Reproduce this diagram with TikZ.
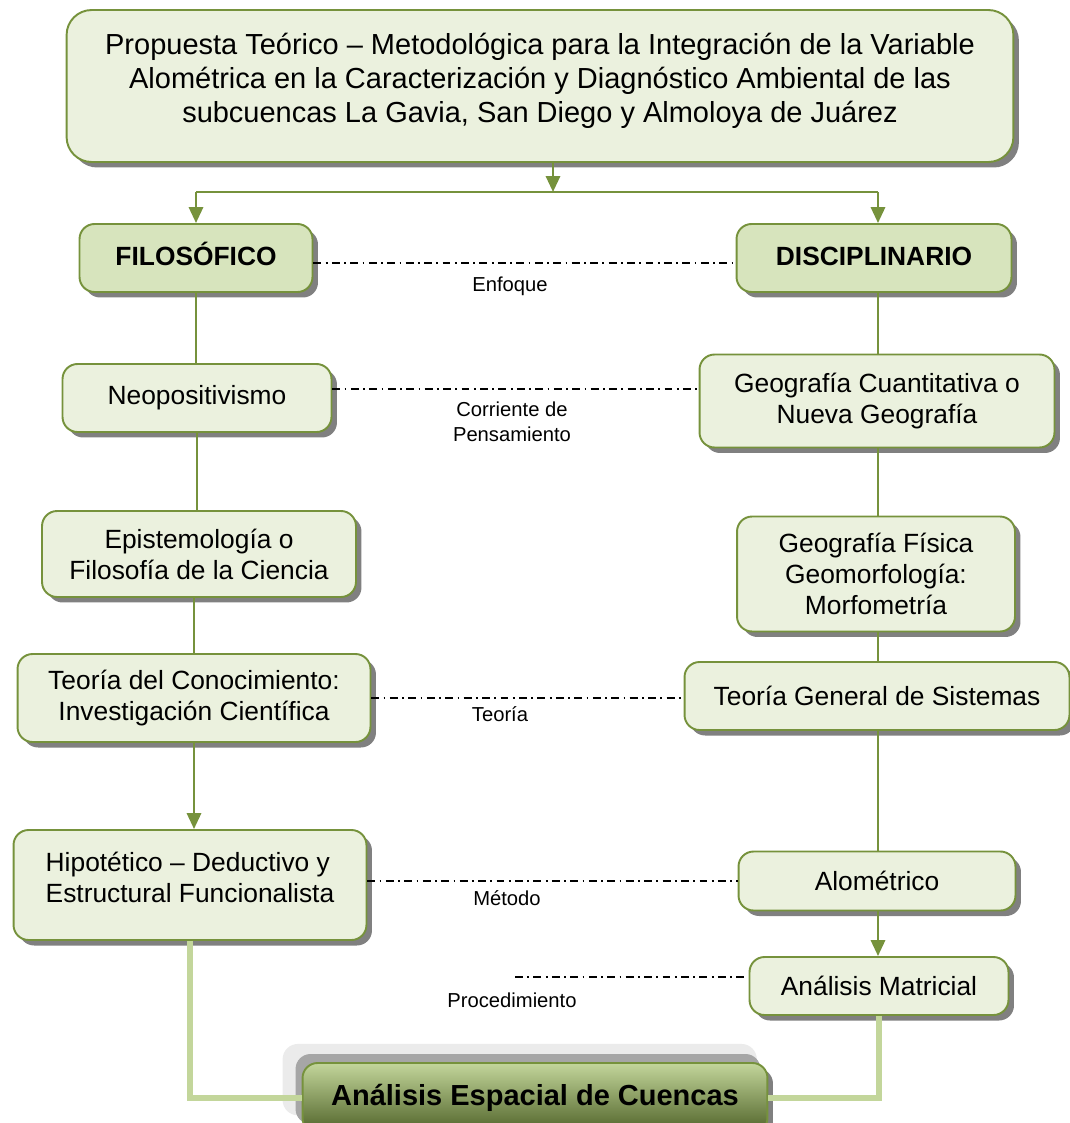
\documentclass[tikz,border=0pt]{standalone}
\usepackage{fontspec}
\setmainfont{Liberation Sans}
\usetikzlibrary{shadows,arrows.meta}

\definecolor{boxline}{HTML}{76923C}
\definecolor{palegreen}{HTML}{EBF1DE}
\definecolor{midgreen}{HTML}{D7E4BD}
\definecolor{feedgreen}{HTML}{C3D69B}
\definecolor{darkolive}{HTML}{4F6228}

\begin{document}
\begin{tikzpicture}[x=0.02cm, y=-0.02cm,
				box/.style={rectangle, rounded corners=0.3cm, draw=boxline, line width=1.1pt, fill=palegreen, align=center,
					font=\fontsize{15}{17.6}\selectfont,
					drop shadow={shadow xshift=0.11cm, shadow yshift=-0.11cm, fill=black!50, opacity=1}},
				headbox/.style={box, fill=midgreen, font=\fontsize{15}{17.6}\selectfont\bfseries, text height=11pt, text depth=3pt},
				lbl/.style={align=center, font=\fontsize{11.5}{14}\selectfont},
				dashdot/.style={black, line width=0.7pt, dash pattern=on 4.5pt off 2.5pt on 1pt off 2.5pt},
				arr/.style={boxline, line width=1.5pt, -{Triangle[length=9pt, width=8pt]}},
				link/.style={boxline, line width=1.5pt},
				feed/.style={feedgreen, line width=3.6pt}
			]
			\useasboundingbox (0,0) rectangle (1070,1123);
			\node[box, rounded corners=0.5cm, minimum width=18.94cm, minimum height=3.04cm,
				font=\fontsize{16.5}{19.3}\selectfont] (title) at (540,86)
				{Propuesta Teórico – Metodológica para la Integración de la Variable\\
				 Alométrica en la Caracterización y Diagnóstico Ambiental de las\\
				 subcuencas La Gavia, San Diego y Almoloya de Juárez\\[-0.34cm]};
			\node[headbox, minimum width=4.66cm, minimum height=1.36cm] (filo) at (196,258) {FILOSÓFICO};
			\node[headbox, minimum width=5.5cm, minimum height=1.36cm] (disc) at (874,258) {DISCIPLINARIO};
			\node[box, minimum width=5.38cm, minimum height=1.36cm] (neo) at (197,398) {Neopositivismo};
			\node[box, minimum width=7.1cm, minimum height=1.86cm] (geocu) at (877,401) {Geografía Cuantitativa o\\Nueva Geografía};
			\node[box, minimum width=6.28cm, minimum height=1.72cm] (epis) at (199,554) {Epistemología o\\Filosofía de la Ciencia};
			\node[box, minimum width=5.56cm, minimum height=2.3cm] (geofis) at (876,574) {Geografía Física\\Geomorfología:\\Morfometría};
			\node[box, minimum width=7.06cm, minimum height=1.76cm] (teocon) at (194,698) {Teoría del Conocimiento:\\Investigación Científica};
			\node[box, minimum width=7.7cm, minimum height=1.36cm] (teogen) at (877,696) {Teoría General de Sistemas};
			\node[box, align=left, minimum width=7.06cm, minimum height=2.2cm] (hipo) at (190,885) {Hipotético – Deductivo y\\Estructural Funcionalista\\[-0.3cm]};
			\node[box, minimum width=5.54cm, minimum height=1.18cm] (alom) at (877,881) {Alométrico};
			\node[box, minimum width=5.18cm, minimum height=1.16cm] (matr) at (879,986) {Análisis Matricial};
			\node[box, minimum width=9.3cm, minimum height=1.4cm, top color=feedgreen, bottom color=darkolive,
				font=\fontsize{16.5}{19}\selectfont\bfseries,
				drop shadow={shadow xshift=-0.3cm, shadow yshift=0.36cm, shadow scale=1.02, fill=black!8, opacity=1},
				drop shadow={shadow xshift=-0.14cm, shadow yshift=0.18cm, fill=black!35, opacity=1}] (espacial) at (535,1098)
				{Análisis Espacial de Cuencas};
			\coordinate (jm) at (553,192);
			\coordinate (jl) at (196,192);
			\coordinate (jr) at (878,192);
			\coordinate (proc) at (515,977);
			\begin{scope}[link]
			\draw[arr] (title.south -| jm) -- (jm);
			\draw (jl) -- (jr);
			\draw[arr] (jl) -- (filo.north -| jl);
			\draw[arr] (jr) -- (disc.north -| jr);
			\draw (filo.south) -- (filo.south |- neo.north);
			\draw (neo.south) -- (neo.south |- epis.north);
			\draw (epis.south -| teocon) -- (teocon.north);
			\draw[arr] (teocon.south) -- (teocon.south |- hipo.north);
			\draw (disc.south -| jr) -- (geocu.north -| jr);
			\draw (geocu.south -| jr) -- (geofis.north -| jr);
			\draw (geofis.south -| jr) -- (teogen.north -| jr);
			\draw (teogen.south -| jr) -- (alom.north -| jr);
			\draw[arr] (alom.south -| jr) -- (matr.north -| jr);
			\end{scope}
			\draw[feed] (hipo.south) |- (espacial.west);
			\draw[feed] (matr.south) |- (espacial.east);
			\draw[dashdot] ([yshift=-0.1cm]filo.east) -- ([yshift=-0.1cm]filo.east -| disc.west);
			\draw[dashdot] ([yshift=0.18cm]neo.east) -- ([yshift=0.18cm]neo.east -| geocu.west);
			\draw[dashdot] (teocon.east) -- (teocon.east -| teogen.west);
			\draw[dashdot] (alom.west -| hipo.east) -- (alom.west);
			\draw[dashdot] (proc) -- (proc -| matr.west);
			\node[lbl] (enfoque) at (510,286) {Enfoque};
			\node[lbl] (corriente) at (512,422) {Corriente de\\Pensamiento};
			\node[lbl] (teoria) at (500,714) {Teoría};
			\node[lbl] (metodo) at (507,898) {Método};
			\node[lbl] (procedimiento) at (512,1000) {Procedimiento};
\end{tikzpicture}
\end{document}
